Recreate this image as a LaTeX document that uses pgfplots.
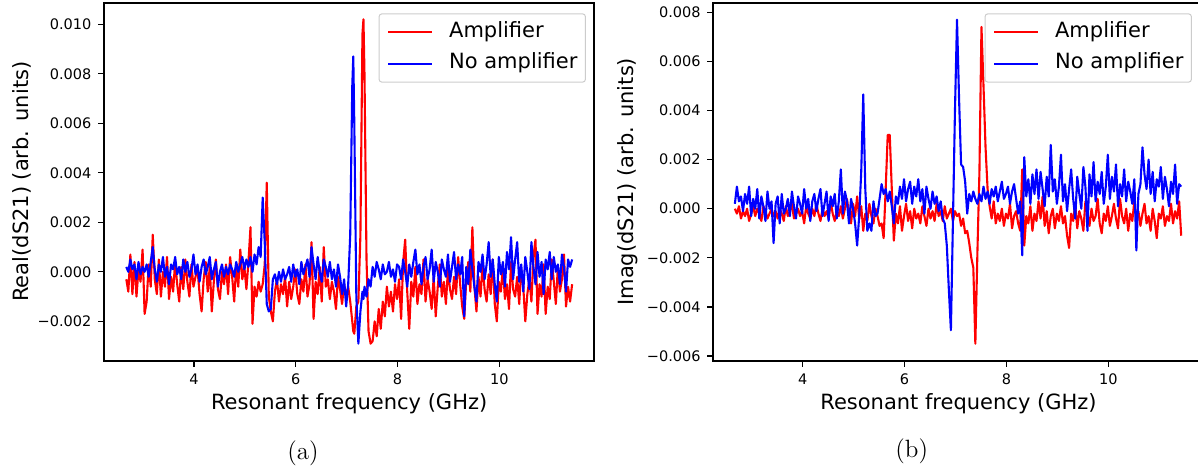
\documentclass[border=0pt]{standalone}
\usepackage{pgfplots}
\pgfplotsset{compat=1.18}
\usepackage{pgfplotstable}
\usepackage{fontspec}
\newfontfamily\mpl{DejaVu Sans}

% values in units of 1e-3
\pgfplotstableread{
x amp noamp
2.67 -0.3 0.2
2.71 -0.8 0.0
2.75 0.7 0.5
2.79 -0.9 0.1
2.83 0.4 0.3
2.87 -1.0 -0.3
2.91 0.1 0.4
2.95 -0.4 -0.1
2.99 0.9 0.2
3.03 -1.7 0.0
3.07 -1.2 0.3
3.11 0.3 -0.2
3.15 -0.6 0.4
3.19 1.5 1.0
3.23 -0.3 0.1
3.27 -0.9 -0.4
3.31 0.5 0.3
3.35 -1.0 0.0
3.39 0.0 0.6
3.43 -0.6 -0.2
3.47 0.6 0.2
3.51 -1.1 -0.5
3.55 -0.2 0.3
3.59 -0.8 0.1
3.63 0.4 0.6
3.67 -0.5 -0.1
3.71 -1.2 0.2
3.75 0.2 -0.3
3.79 -0.7 0.5
3.83 0.5 0.0
3.87 -0.4 0.4
3.91 -1.0 -0.2
3.95 0.3 0.1
3.99 -0.6 0.7
4.03 -0.2 -0.1
4.07 0.1 0.3
4.11 -0.9 -0.4
4.15 -1.6 0.2
4.19 -0.3 0.5
4.23 0.4 -0.1
4.27 -0.8 0.2
4.31 0.2 0.6
4.35 -1.6 -0.3
4.39 -0.4 0.1
4.43 0.5 0.4
4.47 -0.7 -0.6
4.51 -1.1 0.0
4.55 0.0 0.3
4.59 -0.5 -0.2
4.63 0.3 0.2
4.67 -0.9 -0.1
4.71 0.6 0.3
4.75 -0.2 0.1
4.79 -1.2 -0.2
4.83 0.3 0.4
4.87 -0.6 0.0
4.91 0.9 0.3
4.95 -0.3 0.6
4.99 0.2 0.1
5.03 -0.7 0.5
5.07 0.4 0.2
5.11 1.8 0.6
5.15 -2.1 0.0
5.19 -0.6 0.7
5.23 -1.0 0.3
5.27 -0.4 1.0
5.31 -0.8 0.6
5.35 -0.5 3.0
5.39 0.3 1.2
5.43 3.6 -1.3
5.47 -1.0 -1.6
5.51 -1.6 -1.5
5.55 -2.0 -0.3
5.59 -0.8 -0.1
5.63 -0.3 -0.5
5.67 -1.2 0.0
5.71 -0.5 -0.4
5.75 -0.9 0.1
5.79 -0.2 -0.3
5.83 -1.4 -0.1
5.87 -0.4 0.2
5.91 -1.1 -0.4
5.95 -0.6 0.3
5.99 0.1 -0.2
6.03 -0.9 0.1
6.07 -1.3 -0.5
6.11 -0.3 0.4
6.15 -0.8 -0.1
6.19 0.3 0.2
6.23 -1.0 0.5
6.27 -0.5 -0.2
6.31 1.2 1.0
6.35 -1.9 0.3
6.39 -0.4 -0.3
6.43 -0.9 0.6
6.47 0.2 0.0
6.51 -1.2 -0.4
6.55 1.0 0.5
6.59 -0.6 0.2
6.63 -0.3 -0.2
6.67 -1.1 0.4
6.71 -0.4 -0.3
6.75 -0.8 0.1
6.79 -1.5 -0.6
6.83 -0.2 0.3
6.87 -0.7 -0.2
6.91 -1.3 -0.9
6.95 -0.5 -0.3
6.99 -1.0 -1.4
7.03 -0.6 -0.5
7.07 -1.2 1.5
7.11 -2.0 7.5
7.13 -2.4 8.7
7.15 -2.5 6.0
7.19 -1.4 -1.0
7.23 -1.2 -2.9
7.27 1.5 -1.6
7.31 9.6 -0.8
7.33 10.2 -1.1
7.35 8.0 -0.6
7.39 0.5 -1.0
7.43 -2.4 -0.3
7.47 -2.9 -0.6
7.51 -2.8 0.2
7.55 -2.0 -0.2
7.59 -2.6 0.4
7.63 -1.5 0.1
7.67 -2.3 -0.3
7.71 -1.2 0.3
7.75 -1.8 -0.1
7.79 -0.6 0.0
7.83 -1.4 0.4
7.87 -0.8 -0.2
7.91 -1.6 0.1
7.95 -0.5 -0.4
7.99 -1.1 0.3
8.03 -0.3 0.2
8.07 -1.9 -0.3
8.11 0.4 0.5
8.15 1.3 0.0
8.19 -0.8 -0.6
8.23 -2.3 0.3
8.27 -0.4 -0.2
8.31 -1.0 0.4
8.35 0.2 0.9
8.39 -1.3 -0.1
8.43 -0.5 0.3
8.47 -0.9 -0.5
8.51 0.5 0.2
8.55 -1.2 0.6
8.59 -0.3 -0.3
8.63 -0.8 0.1
8.67 -1.5 0.9
8.71 -0.2 -0.4
8.75 -1.8 0.4
8.79 -0.6 0.0
8.83 0.3 -0.6
8.87 -1.0 0.5
8.91 -0.4 0.1
8.95 -1.3 -0.2
8.99 0.1 0.7
9.03 -0.7 -0.4
9.07 -1.1 0.2
9.11 -0.2 0.8
9.15 -0.9 -0.3
9.19 0.6 0.3
9.23 -0.5 -0.1
9.27 -1.4 0.6
9.31 -1.9 -1.8
9.35 -0.3 0.2
9.39 0.4 -0.5
9.43 -0.8 0.9
9.47 1.8 0.1
9.51 -0.6 -0.6
9.55 -1.6 -1.2
9.59 -0.2 0.4
9.63 -1.0 0.0
9.67 0.3 0.7
9.71 -0.7 -0.3
9.75 -1.2 0.3
9.79 -0.1 1.2
9.83 -0.9 -0.2
9.87 0.5 0.5
9.91 -1.3 -0.5
9.95 -2.0 -1.2
9.99 -0.4 0.6
10.03 -0.8 -0.1
10.07 0.2 0.4
10.11 -1.1 -0.6
10.15 -0.5 0.8
10.19 -1.5 0.1
10.23 0.4 1.4
10.27 -0.7 -0.3
10.31 -1.0 0.5
10.35 -0.2 1.2
10.39 -1.3 -0.4
10.43 0.1 0.3
10.47 -0.6 -0.8
10.51 -2.0 0.6
10.55 -0.9 0.0
10.59 -0.3 -0.7
10.63 -1.2 1.2
10.67 0.6 0.2
10.71 1.3 -0.5
10.75 -1.7 0.8
10.79 -0.5 -0.2
10.83 -1.0 0.4
10.87 0.3 -0.9
10.91 -1.7 0.5
10.95 -0.6 0.1
10.99 -1.1 0.8
11.03 0.5 -0.3
11.07 -0.4 0.6
11.11 -1.3 0.0
11.15 0.2 0.3
11.19 -0.8 -0.5
11.23 -0.3 0.7
11.27 0.7 0.2
11.31 -1.4 -0.8
11.35 -0.6 0.5
11.39 -1.2 0.2
11.43 -0.5 0.5
}\dataA

\pgfplotstableread{
x amp noamp
2.67 0.0 0.2
2.71 -0.2 0.9
2.75 0.1 0.3
2.79 -0.4 0.5
2.83 -0.1 -0.1
2.87 -0.3 0.6
2.91 0.0 0.2
2.95 -0.5 0.9
2.99 -0.2 -0.3
3.03 0.1 0.4
3.07 -0.3 0.0
3.11 0.0 0.8
3.15 -0.2 -0.4
3.19 -0.5 0.5
3.23 0.1 0.1
3.27 -0.1 -0.5
3.31 -0.4 0.7
3.35 -0.2 0.0
3.39 0.0 0.3
3.43 -0.3 -1.4
3.47 -0.1 0.2
3.51 -0.4 0.5
3.55 0.0 -0.6
3.59 -0.2 0.6
3.63 -0.5 -0.2
3.67 0.1 0.0
3.71 -0.3 0.4
3.75 -0.1 -0.3
3.79 0.2 0.7
3.83 -0.4 0.1
3.87 -0.2 -0.4
3.91 0.0 0.5
3.95 -0.3 0.2
3.99 -0.1 -0.2
4.03 -0.6 0.8
4.07 0.1 0.0
4.11 -0.2 0.4
4.15 -0.4 -0.5
4.19 0.0 0.3
4.23 -0.3 0.6
4.27 0.2 -0.1
4.31 -0.2 0.4
4.35 -0.5 0.8
4.39 0.0 -0.3
4.43 -0.3 0.2
4.47 -0.1 0.7
4.51 -0.4 -0.5
4.55 0.3 0.5
4.59 -0.2 0.1
4.63 -0.5 0.6
4.67 -0.1 -0.4
4.71 -0.3 0.3
4.75 0.1 1.6
4.79 -0.4 -0.2
4.83 0.0 0.7
4.87 0.4 0.3
4.91 -0.2 -0.6
4.95 -0.6 0.4
4.99 0.2 0.0
5.03 -0.3 -0.6
5.07 0.5 -1.5
5.11 -0.4 -0.3
5.15 0.1 1.5
5.19 -0.9 4.65
5.23 -0.2 0.8
5.27 -0.5 -0.9
5.31 0.2 -0.6
5.35 -0.3 -0.9
5.39 -0.6 0.3
5.43 0.0 -0.3
5.47 -0.3 -0.2
5.51 -0.7 0.4
5.55 -0.6 1.0
5.59 -1.2 0.6
5.63 0.8 0.8
5.67 3.0 0.3
5.71 3.0 0.7
5.75 0.8 0.1
5.79 -1.3 -0.6
5.83 -0.2 0.5
5.87 -0.6 0.2
5.91 0.1 0.9
5.95 -0.9 0.4
5.99 -0.3 1.2
6.03 0.2 0.3
6.07 -0.5 0.8
6.11 -0.1 1.1
6.15 -0.8 0.2
6.19 0.0 0.9
6.23 -0.4 0.5
6.27 -0.2 1.2
6.31 -0.6 0.3
6.35 0.1 0.8
6.39 -0.3 -0.2
6.43 -0.7 0.9
6.47 0.0 0.4
6.51 -0.4 0.0
6.55 -0.1 0.7
6.59 -0.5 0.2
6.63 0.2 0.5
6.67 -0.3 -0.1
6.71 -0.1 0.3
6.75 -0.5 -0.4
6.79 0.1 -0.6
6.83 -0.4 -1.5
6.87 -0.2 -3.3
6.91 0.0 -4.95
6.95 -0.5 -0.5
6.99 -0.1 4.0
7.03 -0.3 7.7
7.07 -0.2 4.5
7.11 -0.7 1.8
7.15 -0.4 1.7
7.19 -1.0 1.1
7.23 -0.9 -0.2
7.27 -1.4 0.6
7.31 -2.0 0.3
7.35 -2.4 0.7
7.39 -5.5 0.4
7.43 -1.8 0.2
7.47 1.5 0.6
7.51 7.4 0.3
7.55 5.0 0.9
7.59 2.5 0.4
7.63 0.8 0.7
7.67 0.1 0.2
7.71 -0.4 0.8
7.75 0.3 0.5
7.79 -0.6 0.9
7.83 -0.2 0.3
7.87 -0.5 0.7
7.91 0.0 1.1
7.95 -0.7 0.4
7.99 -0.2 0.6
8.03 -0.4 0.9
8.07 0.2 0.2
8.11 -0.8 0.7
8.15 -0.3 1.0
8.19 -0.1 0.4
8.23 -0.6 -0.2
8.27 -0.9 0.3
8.31 1.6 -1.9
8.35 -1.5 2.1
8.39 -0.3 0.5
8.43 -0.6 1.2
8.47 0.1 0.2
8.51 -0.9 1.4
8.55 -0.2 0.6
8.59 -0.5 1.6
8.63 0.3 0.4
8.67 -0.4 1.5
8.71 0.5 0.8
8.75 -0.7 0.1
8.79 -0.1 1.3
8.83 -1.0 0.5
8.87 -0.3 2.6
8.91 0.0 0.7
8.95 -0.8 1.2
8.99 -0.2 0.2
9.03 -0.5 0.9
9.07 0.1 2.2
9.11 -0.6 0.3
9.15 -0.3 1.0
9.19 -1.1 -0.1
9.23 -1.6 0.8
9.27 -0.2 1.6
9.31 -0.5 0.4
9.35 0.2 -0.4
9.39 -0.8 1.3
9.43 -0.1 0.6
9.47 -0.4 0.0
9.51 -0.9 1.7
9.55 0.3 0.9
9.59 -0.2 -0.9
9.63 -0.7 1.4
9.67 0.0 0.5
9.71 -0.5 1.9
9.75 -0.3 0.3
9.79 0.4 1.1
9.83 -0.6 0.6
9.87 -1.0 1.5
9.91 -0.2 0.2
9.95 -0.5 0.9
9.99 0.1 2.2
10.03 -0.7 0.4
10.07 -0.3 1.3
10.11 0.2 0.7
10.15 -0.4 1.8
10.19 -0.8 0.1
10.23 0.4 1.0
10.27 -0.3 0.5
10.31 -0.6 1.6
10.35 0.0 0.3
10.39 -0.9 1.1
10.43 -0.2 0.7
10.47 -0.5 0.2
10.51 0.3 1.2
10.55 -0.4 -1.7
10.59 -0.1 0.6
10.63 -0.7 1.0
10.67 -0.2 2.5
10.71 0.2 1.4
10.75 -0.6 0.8
10.79 -0.3 2.0
10.83 -0.9 0.6
10.87 0.0 1.5
10.91 -0.5 0.3
10.95 -1.2 1.2
10.99 -0.2 0.9
11.03 -0.4 1.7
11.07 0.1 0.4
11.11 -0.7 1.3
11.15 -0.3 0.8
11.19 -0.5 0.1
11.23 0.2 1.1
11.27 -0.6 0.6
11.31 -0.1 1.8
11.35 -0.4 0.2
11.39 0.3 1.0
11.43 -1.1 0.9
}\dataB

\pgfplotsset{
  mpanel/.style={
    scale only axis, width=245.15pt, height=179pt, anchor=south west,
    axis line style={line width=0.9pt},
    tick align=outside, major tick length=3pt,
    major tick style={line width=0.6pt, black},
    xtick pos=bottom, ytick pos=left,
    minor tick num=0,
    tick label style={font=\mpl\fontsize{7.25}{8.7}\selectfont},
    yticklabel style={anchor=east, inner sep=0pt, xshift=-3.15pt},
    xticklabel style={anchor=north, inner sep=0pt, yshift=-3.3pt},
    label style={font=\mpl\fontsize{10.5}{12.6}\selectfont},
    xlabel={Resonant frequency (GHz)},
    xlabel style={at={(axis description cs:0.5,0)}, anchor=base, yshift=-24.15pt},
    xtick={4,6,8,10}, xticklabels={4,6,8,10},
    legend cell align=left,
    legend image code/.code={\draw[#1] (0pt,0pt) -- (22pt,0pt);},
    legend style={anchor=north east, font=\mpl\fontsize{10.5}{12.6}\selectfont,
      draw=black!20, fill=white, rounded corners=1.5pt, line width=0.5pt,
      inner xsep=4pt, inner ysep=4.1pt, row sep=5.6pt,
      nodes={inner sep=0pt, text height=7.7pt, text depth=2.5pt},
      /tikz/every odd column/.append style={column sep=8pt}},
  },
  mline/.style={line width=1.05pt, line join=round},
}

\begin{document}
\begin{tikzpicture}
\useasboundingbox (0,0) rectangle (599pt,236pt);
\begin{axis}[mpanel, at={(52pt,55.65pt)},
  xmin=2.232, xmax=11.866, ymin=-3.589, ymax=10.87,
  ytick={-2,0,2,4,6,8,10},
  yticklabels={−0.002,0.000,0.002,0.004,0.006,0.008,0.010},
  ylabel={Real(dS21) (arb. units)},
  ylabel style={at={(axis description cs:-0.1544,0.5)}, anchor=base},
  legend style={at={(axis description cs:0.983,0.9704)}}]
\addplot[red, mline] table[x=x, y=amp] {\dataA};
\addlegendentry{Amplifier}
\addplot[blue, mline] table[x=x, y=noamp] {\dataA};
\addlegendentry{No amplifier}
\end{axis}
\begin{axis}[mpanel, at={(356.65pt,55.65pt)},
  xmin=2.247, xmax=11.87, ymin=-6.19, ymax=8.39,
  ytick={-6,-4,-2,0,2,4,6,8},
  yticklabels={−0.006,−0.004,−0.002,0.000,0.002,0.004,0.006,0.008},
  ylabel={Imag(dS21) (arb. units)},
  ylabel style={at={(axis description cs:-0.1631,0.5)}, anchor=base},
  legend style={at={(axis description cs:0.9762,0.9704)}}]
\addplot[red, mline] table[x=x, y=amp] {\dataB};
\addlegendentry{Amplifier}
\addplot[blue, mline] table[x=x, y=noamp] {\dataB};
\addlegendentry{No amplifier}
\end{axis}
\node[font=\fontsize{12.5}{15}\selectfont] at (151.5pt,9.5pt) {(a)};
\node[font=\fontsize{12.5}{15}\selectfont] at (455.85pt,10.15pt) {(b)};
\end{tikzpicture}
\end{document}
